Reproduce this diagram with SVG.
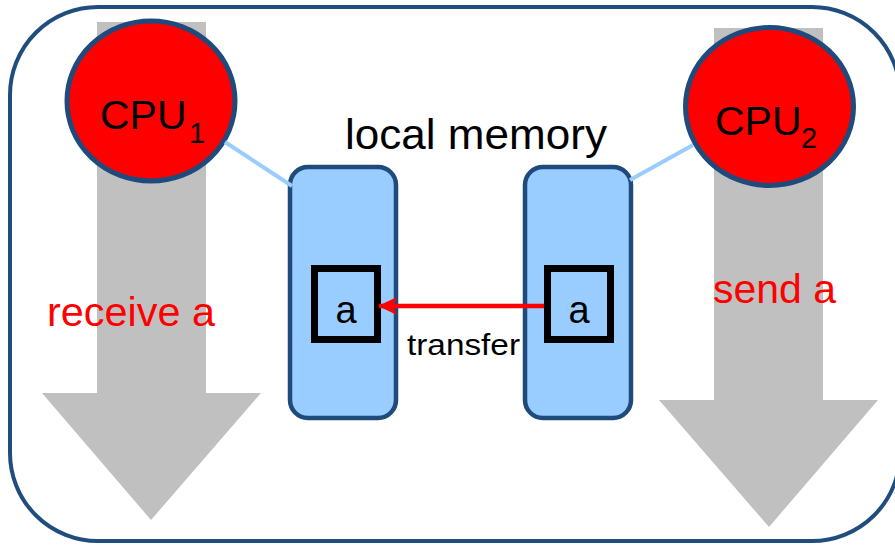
<svg xmlns="http://www.w3.org/2000/svg" width="895" height="545" viewBox="0 0 895 545">
<defs>
<style>
.frame{fill:#ffffff;stroke:#1f4e7e;stroke-width:4}
.flow{fill:#c0c0c0}
.cpu{fill:#ff0000;stroke:#1f4a7c;stroke-width:5}
.mem{fill:#99ccff;stroke:#1f4a7c;stroke-width:4.5}
.cell{fill:none;stroke:#000000;stroke-width:7}
.link{stroke:#99ccff;stroke-width:4;fill:none}
.t{font-family:"Liberation Sans",Arial,sans-serif;fill:#000000}
.red{fill:#ff0000}
</style>
<marker id="ah" markerWidth="20" markerHeight="20" refX="18" refY="10" orient="auto" markerUnits="userSpaceOnUse" viewBox="0 0 20 20">
<path d="M0,1 L19,10 L0,19 L4,10 Z" fill="#ff0000"/>
</marker>
</defs>
<rect class="frame" x="10" y="7" width="890" height="534" rx="88" ry="88"/>
<g id="flow-left">
<polygon class="flow" points="97,22 206,22 206,393 261,393 151,520 42,393 97,393"/>
</g>
<g id="flow-right">
<polygon class="flow" points="714,28 823,28 823,400 878,400 769,527 659,400 714,400"/>
</g>
<g id="cpu1">
<ellipse class="cpu" cx="151" cy="101" rx="84" ry="80"/>
<text class="t" x="100" y="129" font-size="41">CPU</text>
<text class="t" x="189" y="143" font-size="29">1</text>
</g>
<g id="cpu2">
<ellipse class="cpu" cx="769.5" cy="106.5" rx="84" ry="79"/>
<text class="t" x="715" y="135" font-size="41">CPU</text>
<text class="t" x="801" y="148" font-size="29">2</text>
</g>
<text class="t" x="345" y="149" font-size="42" textLength="262" lengthAdjust="spacingAndGlyphs">local memory</text>
<g id="mem1">
<rect class="mem" x="290" y="167" width="106" height="251" rx="18" ry="18"/>
<rect class="cell" x="314.5" y="268.5" width="63" height="71"/>
<text class="t" x="346" y="323" font-size="38" text-anchor="middle">a</text>
</g>
<g id="mem2">
<rect class="mem" x="525" y="167" width="106" height="251" rx="18" ry="18"/>
<rect class="cell" x="547.5" y="268.5" width="63" height="71"/>
<text class="t" x="579" y="323" font-size="38" text-anchor="middle">a</text>
</g>
<g id="connectors">
<line class="link" x1="225" y1="142" x2="292" y2="186"/>
<line class="link" x1="630" y1="180" x2="693" y2="145"/>
<line x1="544" y1="306" x2="379" y2="306" stroke="#ff0000" stroke-width="4.5" marker-end="url(#ah)"/>
</g>
<text class="t" x="407" y="355" font-size="30" textLength="113" lengthAdjust="spacingAndGlyphs">transfer</text>
<text class="t red" x="47" y="326" font-size="41" textLength="168" lengthAdjust="spacingAndGlyphs">receive a</text>
<text class="t red" x="713" y="303" font-size="41" textLength="123" lengthAdjust="spacingAndGlyphs">send a</text>
</svg>
